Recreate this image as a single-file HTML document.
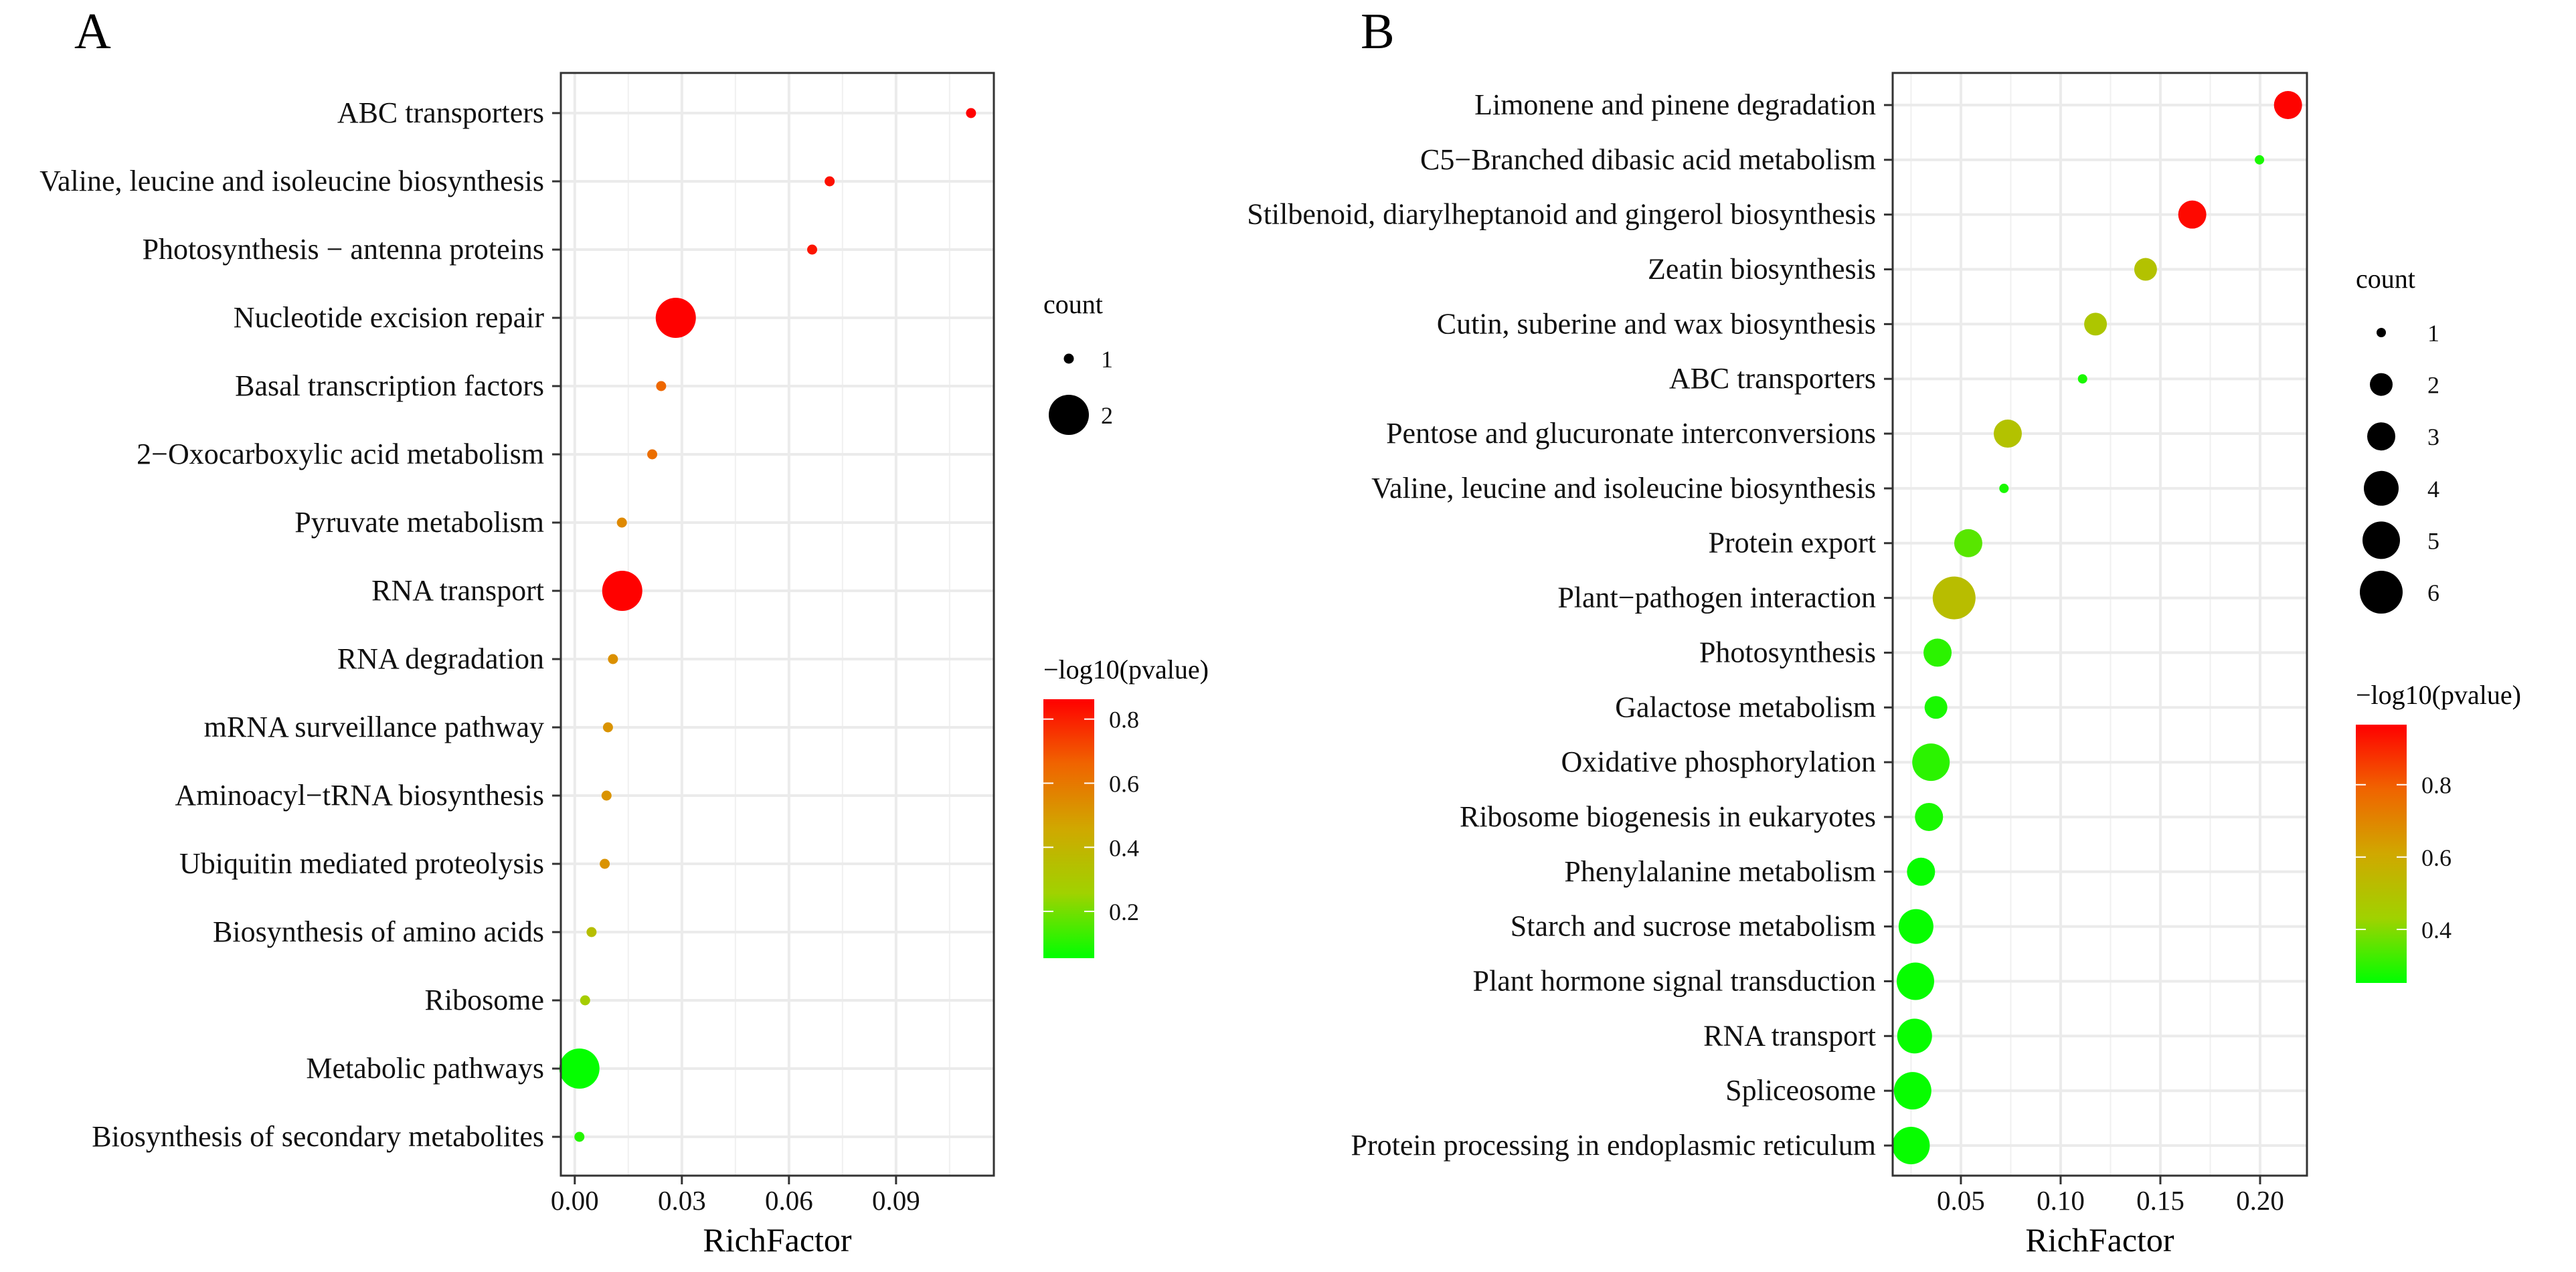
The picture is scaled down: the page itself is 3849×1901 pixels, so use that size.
<!DOCTYPE html>
<html><head><meta charset="utf-8"><style>
html,body{margin:0;padding:0;background:#fff}
svg{display:block;font-family:"Liberation Serif","DejaVu Serif",serif}
</style></head><body>
<svg id="svg" width="3849" height="1901" viewBox="0 0 3849 1901" xmlns="http://www.w3.org/2000/svg">
<defs>
<linearGradient id="gradA" x1="0" y1="1" x2="0" y2="0">
<stop offset="0" stop-color="#00ff00"/><stop offset="0.25" stop-color="#a0d200"/><stop offset="0.5" stop-color="#d0a800"/><stop offset="0.75" stop-color="#f06400"/><stop offset="1" stop-color="#ff0000"/>
</linearGradient>
<linearGradient id="gradB" x1="0" y1="1" x2="0" y2="0">
<stop offset="0" stop-color="#00ff00"/><stop offset="0.25" stop-color="#a0d200"/><stop offset="0.5" stop-color="#d0a800"/><stop offset="0.75" stop-color="#f06400"/><stop offset="1" stop-color="#ff0000"/>
</linearGradient>
</defs>
</svg>
<script>
// ---- Panel A data ----
const catsA = ["ABC transporters","Valine, leucine and isoleucine biosynthesis","Photosynthesis \u2212 antenna proteins","Nucleotide excision repair","Basal transcription factors","2\u2212Oxocarboxylic acid metabolism","Pyruvate metabolism","RNA transport","RNA degradation","mRNA surveillance pathway","Aminoacyl\u2212tRNA biosynthesis","Ubiquitin mediated proteolysis","Biosynthesis of amino acids","Ribosome","Metabolic pathways","Biosynthesis of secondary metabolites"];
const richA = [0.111,0.0714,0.0665,0.0283,0.0242,0.0217,0.0132,0.0133,0.0107,0.0093,0.0089,0.0084,0.0047,0.0029,0.0013,0.0013];
const pvalA = [0.86,0.83,0.82,0.86,0.65,0.63,0.55,0.86,0.53,0.52,0.52,0.52,0.35,0.28,0.06,0.1];
const countA = [1,1,1,2,1,1,1,2,1,1,1,1,1,1,2,1];
const xTicksA = [0,0.03,0.06,0.09];
const xTickLabelsA = ["0.00","0.03","0.06","0.09"];
const cbTicksA = [0.2,0.4,0.6,0.8];
const sizeLegendA = [1,2];
// ---- Panel B data ----
const catsB = ["Limonene and pinene degradation","C5\u2212Branched dibasic acid metabolism","Stilbenoid, diarylheptanoid and gingerol biosynthesis","Zeatin biosynthesis","Cutin, suberine and wax biosynthesis","ABC transporters","Pentose and glucuronate interconversions","Valine, leucine and isoleucine biosynthesis","Protein export","Plant\u2212pathogen interaction","Photosynthesis","Galactose metabolism","Oxidative phosphorylation","Ribosome biogenesis in eukaryotes","Phenylalanine metabolism","Starch and sucrose metabolism","Plant hormone signal transduction","RNA transport","Spliceosome","Protein processing in endoplasmic reticulum"];
const richB = [0.214,0.1997,0.166,0.1426,0.1175,0.111,0.0735,0.0716,0.0537,0.0466,0.0383,0.0375,0.035,0.034,0.030,0.0275,0.0272,0.0268,0.0258,0.025];
const pvalB = [0.96,0.28,0.95,0.5,0.48,0.28,0.5,0.28,0.35,0.52,0.3,0.28,0.3,0.28,0.26,0.26,0.26,0.26,0.26,0.26];
const countB = [3,1,3,2,2,1,3,1,3,6,3,2,5,3,3,4,5,4,5,5];
const xTicksB = [0.05,0.10,0.15,0.20];
const xTickLabelsB = ["0.05","0.10","0.15","0.20"];
const cbTicksB = [0.4,0.6,0.8];
const sizeLegendB = [1,2,3,4,5,6];

const NS = "http://www.w3.org/2000/svg";
const svg = document.getElementById('svg');
function mk(tag, attrs, parent){const e=document.createElementNS(NS,tag);for(const k in attrs)e.setAttribute(k,attrs[k]);(parent||svg).appendChild(e);return e;}
function txt(s, attrs, parent){const e=mk('text',attrs,parent);e.textContent=s;return e;}
const stops=[[0,[0,255,0]],[0.25,[160,210,0]],[0.5,[208,168,0]],[0.75,[240,100,0]],[1,[255,0,0]]];
function colorAt(t){t=Math.max(0,Math.min(1,t));for(let i=1;i<stops.length;i++){if(t<=stops[i][0]){const a=stops[i-1],b=stops[i];const f=(t-a[0])/(b[0]-a[0]);const c=a[1].map((v,j)=>Math.round(v+(b[1][j]-v)*f));return `rgb(${c[0]},${c[1]},${c[2]})`;}}return 'rgb(255,0,0)';}

function panel(cfg){
  const g=mk('g',{});
  
  
  const {x0,x1,y0,y1,dmin,dmax}=cfg;
  const sx=v=>x0+(v-dmin)/(dmax-dmin)*(x1-x0);
  const n=cfg.cats.length;
  const sy=i=>cfg.rowTop+i*(cfg.rowBot-cfg.rowTop)/(n-1);
  mk('rect',{x:x0,y:y0,width:x1-x0,height:y1-y0,fill:'#fff'},g);
  const step=cfg.ticks[1]-cfg.ticks[0];
  for(let v=cfg.ticks[0]-step/2;v<=dmax;v+=step){if(v<dmin)continue;const l=mk('line',{x1:sx(v),x2:sx(v),y1:y0,y2:y1,stroke:'#f0f0f0','stroke-width':2},g);}
  cfg.ticks.forEach(v=>{const l=mk('line',{x1:sx(v),x2:sx(v),y1:y0,y2:y1,stroke:'#ebebeb','stroke-width':4},g);});
  cfg.cats.forEach((c,i)=>{const l=mk('line',{x1:x0,x2:x1,y1:sy(i),y2:sy(i),stroke:'#ebebeb','stroke-width':4},g);});
  cfg.cats.forEach((c,i)=>{
    const t=(cfg.pval[i]-cfg.cmin)/(cfg.cmax-cfg.cmin);
    const p=mk('circle',{cx:sx(cfg.rich[i]),cy:sy(i),r:cfg.radius(cfg.count[i]),fill:colorAt(t)},g);
    
    
  });
  const b=mk('rect',{x:x0,y:y0,width:x1-x0,height:y1-y0,fill:'none',stroke:'#333','stroke-width':3},g);
  
  cfg.cats.forEach((c,i)=>{
    mk('line',{x1:x0-13,x2:x0,y1:sy(i),y2:sy(i),stroke:'#333','stroke-width':3},g);
    const t=txt(c,{x:x0-25,y:sy(i)+14,'text-anchor':'end','font-size':44,fill:'#111'},g);
    
  });
  cfg.ticks.forEach((v,i)=>{
    mk('line',{x1:sx(v),x2:sx(v),y1:y1,y2:y1+13,stroke:'#333','stroke-width':3},g);
    const t=txt(cfg.tickLabels[i],{x:sx(v),y:1808,'text-anchor':'middle','font-size':41,fill:'#111'},g);
    
  });
  const xt=txt('RichFactor',{x:(x0+x1)/2,y:1870,'text-anchor':'middle','font-size':50,fill:'#000'},g);
  
  const lt=txt(cfg.letter,{x:cfg.letterX,y:72,'font-size':76,fill:'#000'},g);
  
  const ct=txt('count',{x:cfg.legX,y:cfg.countY,'font-size':40,fill:'#000'},g);
  
  cfg.sizeLeg.forEach((n,i)=>{
    const cy=cfg.sizeY0+i*cfg.sizeDy;
    const c=mk('circle',{cx:cfg.legX+38,cy:cy,r:cfg.radius(n),fill:'#000'},g);
    
    const t=txt(String(n),{x:cfg.legX+cfg.sizeLabDx,y:cy+13,'font-size':36,fill:'#111'},g);
    
  });
  const cbt=txt('\u2212log10(pvalue)',{x:cfg.legX,y:cfg.cbTitleY,'font-size':40,fill:'#000'},g);
  
  const cb=mk('rect',{x:cfg.legX,y:cfg.cbTop,width:76,height:cfg.cbBot-cfg.cbTop,fill:cfg.grad},g);
  
  const cy=v=>cfg.cbBot-(v-cfg.cmin)/(cfg.cmax-cfg.cmin)*(cfg.cbBot-cfg.cbTop);
  cfg.cbTicks.forEach(v=>{
    mk('line',{x1:cfg.legX,x2:cfg.legX+15,y1:cy(v),y2:cy(v),stroke:'#fff','stroke-width':2},g);
    mk('line',{x1:cfg.legX+61,x2:cfg.legX+76,y1:cy(v),y2:cy(v),stroke:'#fff','stroke-width':2},g);
    const t=txt(v.toFixed(1),{x:cfg.legX+98,y:cy(v)+13,'font-size':36,fill:'#111'},g);
    
  });
}
const radA=[0,7.5,30];
panel({name:'panel-a',letter:'A',letterX:111,x0:838,x1:1485,y0:109,y1:1757,dmin:-0.0039,dmax:0.1174,rowTop:169,rowBot:1699,
  cats:catsA,rich:richA,pval:pvalA,count:countA,ticks:xTicksA,tickLabels:xTickLabelsA,cmin:0.054,cmax:0.862,
  radius:n=>radA[n],legX:1559,countY:468,sizeLeg:sizeLegendA,sizeY0:536,sizeDy:84,sizeLabDx:86,
  cbTitleY:1014,cbTop:1045,cbBot:1432,cbTicks:cbTicksA,grad:'url(#gradA)'});
const radB=[0,7,17,21,26,28,32];
panel({name:'panel-b',letter:'B',letterX:2033,x0:2828,x1:3447,y0:109,y1:1757,dmin:0.0158,dmax:0.2235,rowTop:157,rowBot:1712,
  cats:catsB,rich:richB,pval:pvalB,count:countB,ticks:xTicksB,tickLabels:xTickLabelsB,cmin:0.252,cmax:0.966,
  radius:n=>radB[n],legX:3520,countY:430,sizeLeg:sizeLegendB,sizeY0:497,sizeDy:77.6,sizeLabDx:107,
  cbTitleY:1052,cbTop:1083,cbBot:1469,cbTicks:cbTicksB,grad:'url(#gradB)'});
</script>
</body></html>
